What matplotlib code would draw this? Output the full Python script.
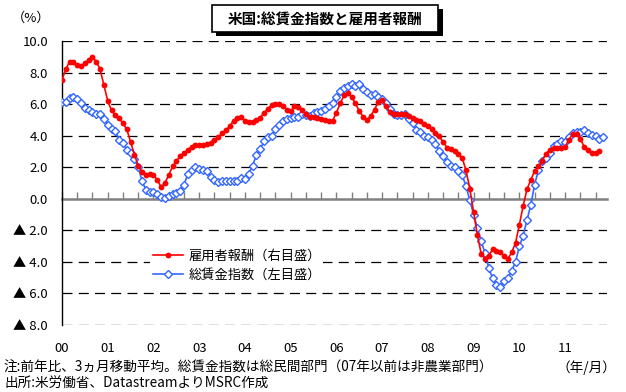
import numpy as np
import matplotlib
matplotlib.use('Agg')
import matplotlib.pyplot as plt
from matplotlib.patches import Rectangle
from matplotlib.ticker import FuncFormatter, MultipleLocator

plt.rcParams['font.family'] = ['Noto Sans CJK JP', 'DejaVu Sans']

# 月次データ (2000年1月～), 前年比 %
compensation = [  # 雇用者報酬
    7.55, 8.2, 8.7, 8.7, 8.45, 8.4, 8.6, 8.8, 9.0, 8.7,
    8.2, 7.2, 6.2, 5.6, 5.3, 5.1, 4.8, 4.4, 3.6, 2.8,
    2.1, 1.7, 1.5, 1.6, 1.5, 1.2, 0.75, 1.0, 1.5, 2.05,
    2.4, 2.7, 2.9, 3.1, 3.3, 3.4, 3.4, 3.4, 3.45, 3.55,
    3.75, 3.9, 4.15, 4.35, 4.6, 4.95, 5.1, 5.2, 4.95, 4.85,
    4.85, 5.0, 5.15, 5.45, 5.7, 5.95, 6.0, 6.0, 5.85, 5.65,
    5.55, 5.85, 5.8, 5.65, 5.35, 5.2, 5.2, 5.15, 5.05, 5.0,
    4.95, 4.95, 5.45, 6.05, 6.55, 6.7, 6.45, 6.05, 5.55, 5.2,
    5.0, 5.25, 5.65, 6.15, 6.25, 5.9, 5.5, 5.35, 5.35, 5.35,
    5.35, 5.25, 5.15, 5.0, 4.9, 4.75, 4.6, 4.4, 4.2, 3.95,
    3.6, 3.25, 3.15, 3.05, 2.85, 2.6, 1.8, 0.65, -0.85, -2.3,
    -3.5, -3.8, -3.6, -3.2, -3.3, -3.4, -3.65, -3.8, -3.4, -2.8,
    -1.65, -0.45, 0.6, 1.2, 1.75, 2.05, 2.4, 2.85, 3.1, 3.2,
    3.2, 3.25, 3.3, 3.75, 4.1, 4.1, 3.8, 3.3, 3.1, 2.9,
    2.9, 3.0,
]
wage_index = [  # 総賃金指数
    6.15, 6.15, 6.4, 6.45, 6.35, 6.05, 5.75, 5.65, 5.5, 5.4,
    5.4, 5.05, 4.7, 4.4, 4.3, 3.75, 3.55, 3.1, 2.9, 2.5,
    2.0, 1.15, 0.55, 0.45, 0.4, 0.3, 0.1, 0.05, 0.15, 0.3,
    0.35, 0.5, 0.9, 1.55, 1.85, 2.0, 1.9, 1.85, 1.75, 1.4,
    1.2, 1.05, 1.15, 1.15, 1.1, 1.1, 1.1, 1.3, 1.25, 1.6,
    2.1, 2.75, 3.15, 3.65, 3.9, 4.0, 4.4, 4.65, 4.9, 5.05,
    5.1, 5.2, 5.2, 5.4, 5.3, 5.25, 5.45, 5.5, 5.55, 5.7,
    5.85, 6.1, 6.45, 6.8, 7.0, 7.15, 7.3, 7.15, 7.25, 6.95,
    6.75, 6.6, 6.65, 6.45, 6.3, 6.1, 5.7, 5.35, 5.3, 5.3,
    5.4, 5.05, 4.8, 4.35, 4.25, 3.95, 3.9, 3.75, 3.5, 3.0,
    2.7, 2.35, 2.05, 2.0, 1.75, 1.5, 0.8, -0.1, -1.0, -1.85,
    -2.7, -3.45, -4.4, -5.05, -5.45, -5.6, -5.2, -5.05, -4.55, -4.0,
    -3.0, -2.35, -1.35, -0.4, 0.9, 1.8, 2.4, 2.6, 2.9, 3.35,
    3.45, 3.65, 3.6, 3.9, 4.15, 4.25, 4.25, 4.35, 4.2, 4.05,
    3.95, 3.8, 3.9,
]
year_labels = ['00', '01', '02', '03', '04', '05', '06', '07', '08', '09', '10', '11']

title = '米国:総賃金指数と雇用者報酬'
label_comp = '雇用者報酬（右目盛）'
label_wage = '総賃金指数（左目盛）'
note1 = '注:前年比、3ヵ月移動平均。総賃金指数は総民間部門（07年以前は非農業部門）'
note2 = '出所:米労働省、DatastreamよりMSRC作成'

RED = '#FF0000'
BLUE = '#3366FF'

W, H = 626, 392
fig = plt.figure(figsize=(W / 100, H / 100), dpi=100)
ax = fig.add_axes([62 / W, 1 - 325 / H, (607 - 62) / W, (325 - 41) / H])

x_comp = np.arange(len(compensation))
x_wage = np.arange(len(wage_index))

ax.set_xlim(0, 143)
ax.set_ylim(-8, 10)
ax.yaxis.set_major_locator(MultipleLocator(2))
ax.yaxis.set_major_formatter(FuncFormatter(
    lambda v, p: '▲ %.1f' % abs(v) if v < -1e-9 else '%.1f' % abs(v)))

# 破線グリッド (0 は軸線)
for v in ax.get_yticks():
    if abs(v) > 1e-9:
        ax.axhline(v, color='black', lw=0.9, dashes=(8, 5), zorder=1)

ax.plot(x_wage, wage_index, color=BLUE, lw=1.2, marker='D', markersize=3.6,
        markerfacecolor='white', markeredgecolor=BLUE, markeredgewidth=1.0,
        label=label_wage, zorder=3)
ax.plot(x_comp, compensation, color=RED, lw=1.2, marker='o', markersize=4.2,
        markeredgewidth=0, label=label_comp, zorder=4)

for s in ['top', 'right']:
    ax.spines[s].set_visible(False)
ax.spines['left'].set_color('black')
ax.spines['left'].set_linewidth(1.0)
ax.spines['bottom'].set_position(('data', 0))
ax.spines['bottom'].set_color('#808080')
ax.spines['bottom'].set_linewidth(1.8)
ax.spines['bottom'].set_zorder(2)

ax.xaxis.set_major_locator(MultipleLocator(4))
ax.tick_params(axis='x', direction='in', length=5, width=1, color='#808080',
               labelbottom=False)
ax.tick_params(axis='y', length=0, pad=10, labelsize=9.5)

sec = ax.secondary_xaxis('bottom')
sec.set_xticks(np.arange(len(year_labels)) * 12)
sec.set_xticklabels(year_labels)
sec.tick_params(length=0, pad=12, labelsize=9.5)
sec.spines['bottom'].set_visible(False)

leg = ax.legend(handles=ax.get_lines()[::-1][:2], loc='upper left',
                bbox_to_anchor=(150 / W, 1 - 247 / H), bbox_transform=fig.transFigure,
                fontsize=9.5, frameon=True, framealpha=1, facecolor='white',
                edgecolor='none', fancybox=False, handlelength=2.3,
                handletextpad=0.4, labelspacing=0.45, borderpad=0.2,
                borderaxespad=0)
leg.set_zorder(5)

# タイトル枠 (影付き)
fig.patches.append(Rectangle((216 / W, 1 - 36 / H), (443 - 216) / W, 27 / H,
                             transform=fig.transFigure, facecolor='black',
                             edgecolor='none', zorder=0))
fig.patches.append(Rectangle((212 / W, 1 - 32 / H), (438 - 212) / W, 27 / H,
                             transform=fig.transFigure, facecolor='white',
                             edgecolor='black', lw=1.2, zorder=1))
fig.text(325 / W, 1 - 18.5 / H, title, ha='center', va='center',
         fontsize=10.5, fontweight='bold', zorder=2)

fig.text(12 / W, 1 - 18 / H, '（%）', ha='left', va='center', fontsize=9.5)
fig.text(4 / W, 1 - 368 / H, note1, ha='left', va='center', fontsize=9.8)
fig.text(4 / W, 1 - 384 / H, note2, ha='left', va='center', fontsize=9.8)
fig.text(616 / W, 1 - 368 / H, '（年/月）', ha='right', va='center', fontsize=9.8)

fig.savefig('out.png', dpi=100)
